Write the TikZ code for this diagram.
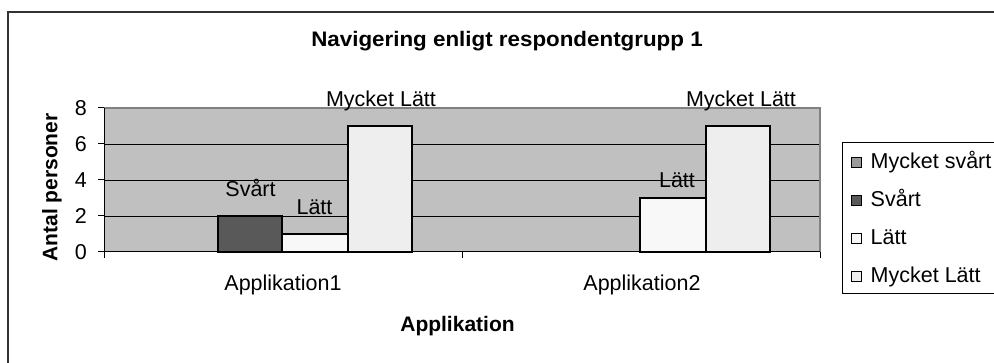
\documentclass[tikz,border=0pt]{standalone}
\usepackage{fontspec}
\usepackage{graphicx}
\setmainfont{Liberation Sans}
\definecolor{plotbg}{HTML}{C0C0C0}
\definecolor{msvart}{HTML}{9A9A9A}
\definecolor{svart}{HTML}{595959}
\definecolor{latt}{HTML}{F8F8F8}
\definecolor{mlatt}{HTML}{EEEEEE}
\definecolor{frame}{HTML}{333333}
\definecolor{plotedge}{HTML}{808080}
\tikzset{
  txt/.style={inner sep=0pt, font=\fontsize{21.5}{26}\selectfont},
  bold/.style={txt, font=\fontsize{21}{26}\selectfont\bfseries},
  bar/.style={draw=black, line width=1.8pt},
  grid/.style={draw=black, line width=0.9pt},
  axis/.style={draw=black, line width=1pt},
  swatch/.style={draw=black, line width=1.2pt, minimum size=10.5pt, inner sep=0pt},
}
\begin{document}
\begin{tikzpicture}[x=1pt, y=-1pt]
  \useasboundingbox (0,0) rectangle (994,363);
  \clip (0,0) rectangle (994,363);
  \fill[white] (0,0) rectangle (994,363);
  % chart frame, running past the page edge
  \draw[frame, line width=2pt] (8,12) rectangle (1010,380);

  % title
  \node[bold, anchor=base] (title) at (507,46.7) {\scalebox{1.065}[1]{Navigering enligt respondentgrupp 1}};

  % plot area and grid
  \fill[plotbg] (104,108) rectangle (820,252);
  \foreach \yy in {144,180,216} \draw[grid] (104,\yy) -- (820,\yy);
  \draw[plotedge, line width=1.2pt] (104,108) -- (820,108) -- (820,252);

  % bars, Applikation1
  \draw[bar, fill=svart] (218,252) rectangle (282,216);
  \draw[bar, fill=latt]  (282,252) rectangle (348,234);
  \draw[bar, fill=mlatt] (348,252) rectangle (412,126);
  % bars, Applikation2
  \draw[bar, fill=latt]  (640,252) rectangle (706,198);
  \draw[bar, fill=mlatt] (706,252) rectangle (770,126);

  % axes and ticks
  \draw[axis] (104,108) -- (104,252) -- (820,252);
  \foreach \yy in {108,144,180,216,252} \draw[axis] (98,\yy) -- (104,\yy);
  \foreach \xx in {104,462,820} \draw[axis] (\xx,252) -- (\xx,258);

  % tick labels
  \node[txt, anchor=east] (t8) at (87,108) {8};
  \node[txt, anchor=east] (t6) at (87,144) {6};
  \node[txt, anchor=east] (t4) at (87,180) {4};
  \node[txt, anchor=east] (t2) at (87,216) {2};
  \node[txt, anchor=east] (t0) at (87,252) {0};

  % bar labels
  \node[txt, anchor=base] (l1ml) at (381,107) {Mycket Lätt};
  \node[txt, anchor=base] (l1s)  at (250.5,196.7) {Svårt};
  \node[txt, anchor=base] (l1l)  at (314.5,215) {Lätt};
  \node[txt, anchor=base] (l2ml) at (741,107) {Mycket Lätt};
  \node[txt, anchor=base] (l2l)  at (677,188) {Lätt};

  % category and axis titles
  \node[txt, anchor=base] (cat1) at (283,290.7) {Applikation1};
  \node[txt, anchor=base] (cat2) at (642,290.7) {Applikation2};
  \node[bold, anchor=base] (xtitle) at (457.5,331.7) {Applikation};
  \node[bold, anchor=base, rotate=90] (ytitle) at (57.3,187.5) {Antal personer};

  % legend
  \draw[black, line width=1pt, fill=white] (842,143) rectangle (1010,294);
  \node[swatch, fill=msvart] (s1) at (856.5,162.5) {};
  \node[swatch, fill=svart]  (s2) at (856.5,200.5) {};
  \node[swatch, fill=latt]   (s3) at (856.5,238.5) {};
  \node[swatch, fill=mlatt]  (s4) at (856.5,276.5) {};
  \node[txt, anchor=base west] (e1) at (870.5,168.4) {Mycket svårt};
  \node[txt, anchor=base west] (e2) at (870.5,206.5) {Svårt};
  \node[txt, anchor=base west] (e3) at (870.5,244.6) {Lätt};
  \node[txt, anchor=base west] (e4) at (870.5,282.2) {Mycket Lätt};
\end{tikzpicture}
\end{document}
